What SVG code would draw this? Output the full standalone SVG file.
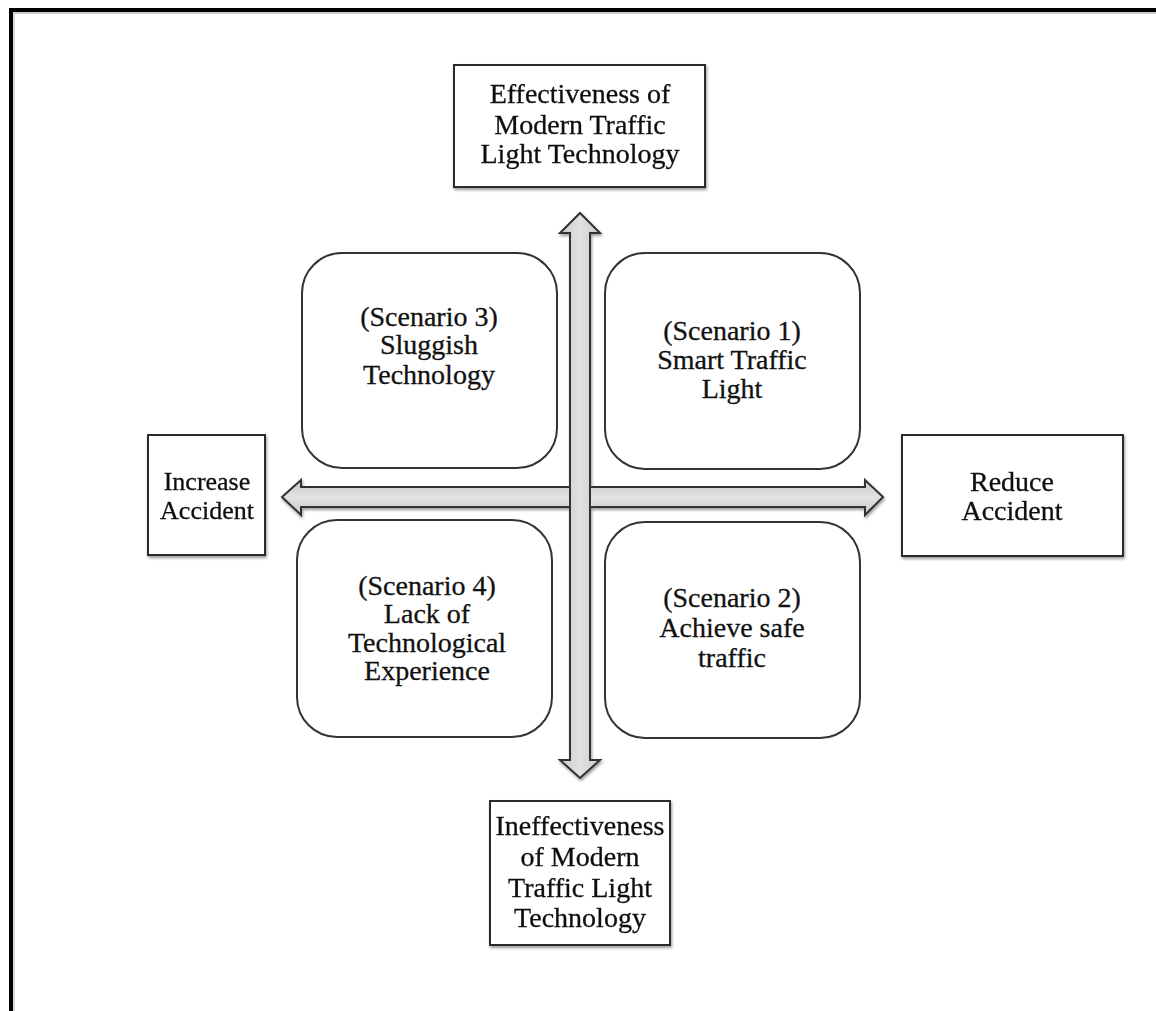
<svg xmlns="http://www.w3.org/2000/svg" width="1156" height="1011" viewBox="0 0 1156 1011">
<defs>
<style>
.t{font-family:"Liberation Serif","Times New Roman",serif;font-size:28px;fill:#111;text-anchor:middle;stroke:#111;stroke-width:0.3}
.s{font-size:26px}
.box{fill:#fff;stroke:#2a2a2a;stroke-width:2}
.rbox{fill:#fff;stroke:#333;stroke-width:2}
.arr{stroke:#333;stroke-width:2;stroke-linejoin:miter}
</style>
<linearGradient id="gv" x1="0" y1="0" x2="1" y2="0">
<stop offset="0" stop-color="#c8c8c8"/><stop offset="0.5" stop-color="#e2e2e2"/><stop offset="1" stop-color="#c8c8c8"/>
</linearGradient>
<linearGradient id="gh" x1="0" y1="0" x2="0" y2="1">
<stop offset="0" stop-color="#c8c8c8"/><stop offset="0.5" stop-color="#e2e2e2"/><stop offset="1" stop-color="#c8c8c8"/>
</linearGradient>
<filter id="sh" x="-10%" y="-10%" width="120%" height="120%">
<feGaussianBlur in="SourceAlpha" stdDeviation="1.5"/><feOffset dx="1" dy="1.5" result="b"/>
<feComponentTransfer><feFuncA type="linear" slope="0.4"/></feComponentTransfer>
<feMerge><feMergeNode/><feMergeNode in="SourceGraphic"/></feMerge>
</filter>
</defs>
<rect x="0" y="0" width="1156" height="1011" fill="#fff"/>
<g id="frame">
<line x1="9" y1="10" x2="1156" y2="10" stroke="#000" stroke-width="4"/>
<line x1="11" y1="8" x2="11" y2="1011" stroke="#000" stroke-width="4"/>
<line x1="13" y1="13" x2="1156" y2="13" stroke="#bbb" stroke-width="1.5"/>
<line x1="14" y1="13" x2="14" y2="1011" stroke="#ccc" stroke-width="1.5"/>
</g>
<g id="connectors" filter="url(#sh)">
<path class="arr" fill="url(#gh)" d="M282,497 L301,480 L301,487 L865,487 L865,480 L883,497 L865,515 L865,507 L301,507 L301,515 Z"/>
<path class="arr" fill="url(#gv)" d="M580,213 L600,233 L590,233 L590,760 L600,760 L580,778 L560,760 L570,760 L570,233 L560,233 Z"/>
</g>
<g id="n-top" filter="url(#sh)">
<rect class="box" x="454" y="65" width="251" height="122"/>
<text class="t" x="580" y="103">Effectiveness of</text>
<text class="t" x="580" y="134">Modern Traffic</text>
<text class="t" x="580" y="163">Light  Technology</text>
</g>
<g id="n-left" filter="url(#sh)">
<rect class="box" x="148" y="435" width="117" height="120"/>
<text class="t s" x="207" y="490">Increase</text>
<text class="t s" x="207" y="519">Accident</text>
</g>
<g id="n-right" filter="url(#sh)">
<rect class="box" x="902" y="435" width="221" height="121"/>
<text class="t" x="1012" y="491">Reduce</text>
<text class="t" x="1012" y="520">Accident</text>
</g>
<g id="n-bottom" filter="url(#sh)">
<rect class="box" x="490" y="801" width="180" height="144"/>
<text class="t" x="580" y="835">Ineffectiveness</text>
<text class="t" x="580" y="866">of Modern</text>
<text class="t" x="580" y="897">Traffic Light</text>
<text class="t" x="580" y="927">Technology</text>
</g>
<g id="s3">
<rect class="rbox" x="302" y="253" width="255" height="215" rx="40" ry="40"/>
<text class="t" x="429" y="326">(Scenario 3)</text>
<text class="t" x="429" y="354">Sluggish</text>
<text class="t" x="429" y="384">Technology</text>
</g>
<g id="s1">
<rect class="rbox" x="605" y="253" width="255" height="216" rx="40" ry="40"/>
<text class="t" x="732" y="340">(Scenario 1)</text>
<text class="t" x="732" y="369">Smart Traffic</text>
<text class="t" x="732" y="398">Light</text>
</g>
<g id="s4">
<rect class="rbox" x="297" y="520" width="255" height="217" rx="40" ry="40"/>
<text class="t" x="427" y="595">(Scenario 4)</text>
<text class="t" x="427" y="623">Lack of</text>
<text class="t" x="427" y="652">Technological</text>
<text class="t" x="427" y="680">Experience</text>
</g>
<g id="s2">
<rect class="rbox" x="605" y="522" width="255" height="216" rx="40" ry="40"/>
<text class="t" x="732" y="607">(Scenario 2)</text>
<text class="t" x="732" y="637">Achieve safe</text>
<text class="t" x="732" y="667">traffic</text>
</g>
</svg>
